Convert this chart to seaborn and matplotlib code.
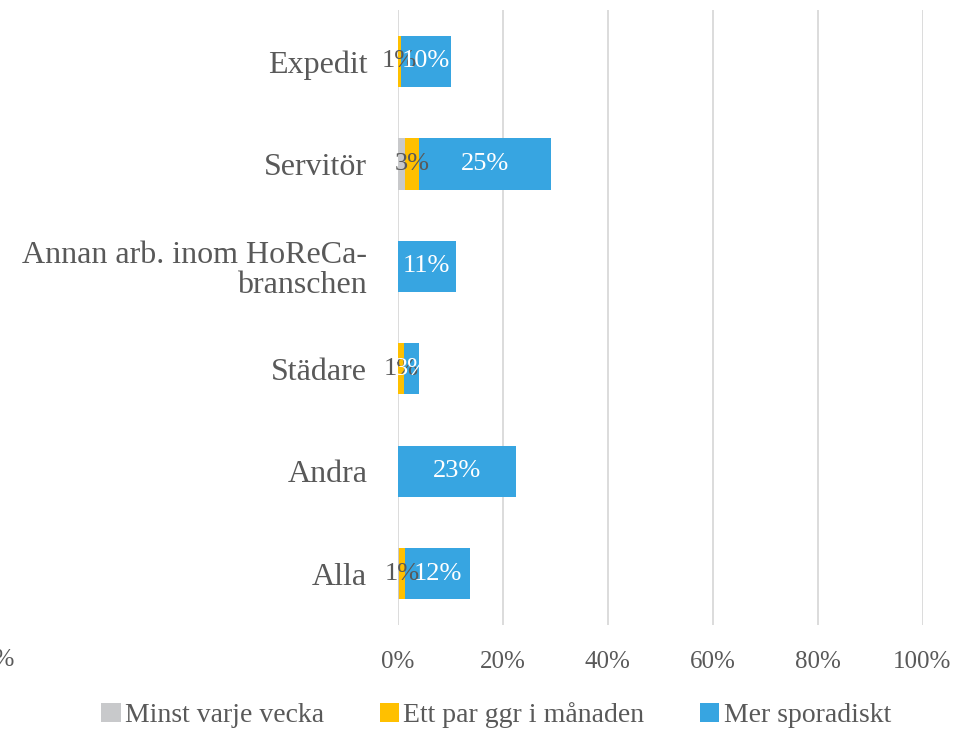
import numpy as np
import pandas as pd
import matplotlib
matplotlib.use("Agg")
import matplotlib.pyplot as plt
from matplotlib.patches import Patch
import seaborn as sns

categories = ["Expedit", "Servitör", "Annan arb. inom HoReCa-\nbranschen",
              "Städare", "Andra", "Alla"]
series = ["Minst varje vecka", "Ett par ggr i månaden", "Mer sporadiskt"]
weekly = [0.0, 1.3, 0.0, 0.0, 0.0, 0.2]
monthly = [0.6, 2.7, 0.0, 1.2, 0.0, 1.2]
sporadic = [9.5, 25.1, 11.0, 2.9, 22.5, 12.4]
monthly_labels = ["1%", "3%", "", "1%", "", "1%"]
sporadic_labels = ["10%", "25%", "11%", "3%", "23%", "12%"]
xticks = [0, 20, 40, 60, 80, 100]

colors = ["#c8c9cb", "#ffc000", "#37a5e1"]
text_color = "#595959"

sns.set_theme(style="white")
plt.rcParams["font.family"] = ["Liberation Serif", "DejaVu Serif"]

df = pd.DataFrame({"cat": categories, "weekly": weekly,
                   "monthly": monthly, "sporadic": sporadic})
df["c1"] = df["weekly"]
df["c2"] = df["c1"] + df["monthly"]
df["c3"] = df["c2"] + df["sporadic"]

fig = plt.figure(figsize=(9.54, 7.31), dpi=100)
ax = fig.add_axes([0.417, 0.145, 0.55, 0.841])

# stacked by overlaying cumulative totals
for col, c in zip(["c3", "c2", "c1"], colors[::-1]):
    sns.barplot(data=df, x=col, y="cat", color=c, width=0.5,
                saturation=1, ax=ax, orient="h", linewidth=0)

ax.set_xlim(0, 100)
ax.set_ylim(5.5, -0.5)
ax.set_xticks(xticks)
ax.set_xticklabels([f"{t}%" for t in xticks])
ax.set_xlabel("")
ax.set_ylabel("")
for s in ax.spines.values():
    s.set_visible(False)
ax.grid(axis="x", color="#d9d9d9", linewidth=1.3)
ax.set_axisbelow(True)
ax.tick_params(axis="x", length=0, pad=19, labelsize=18, labelcolor=text_color)
ax.tick_params(axis="y", length=0, pad=22, labelsize=23, labelcolor=text_color)
for lbl in ax.get_yticklabels():
    lbl.set_linespacing(1.05)

for i, row in df.iterrows():
    if monthly_labels[i]:
        ax.text((row["c1"] + row["c2"]) / 2, i, monthly_labels[i], ha="center",
                va="center", fontsize=19, color=text_color)
    if sporadic_labels[i]:
        ax.text((row["c2"] + row["c3"]) / 2, i, sporadic_labels[i], ha="center",
                va="center", fontsize=19, color="white")

fig.text(0.0147, 1 - 660 / 731, "0%", ha="right", va="center",
         fontsize=18, color=text_color)

handles = [Patch(facecolor=c, edgecolor="none") for c in colors]
fig.legend(handles, series, loc="center", bbox_to_anchor=(0.52, 1 - 715 / 731),
           ncol=3, frameon=False, fontsize=20, labelcolor=text_color,
           handlelength=0.7, handleheight=0.7, handletextpad=0.15,
           columnspacing=2.0)

fig.savefig("out.png", dpi=100)
